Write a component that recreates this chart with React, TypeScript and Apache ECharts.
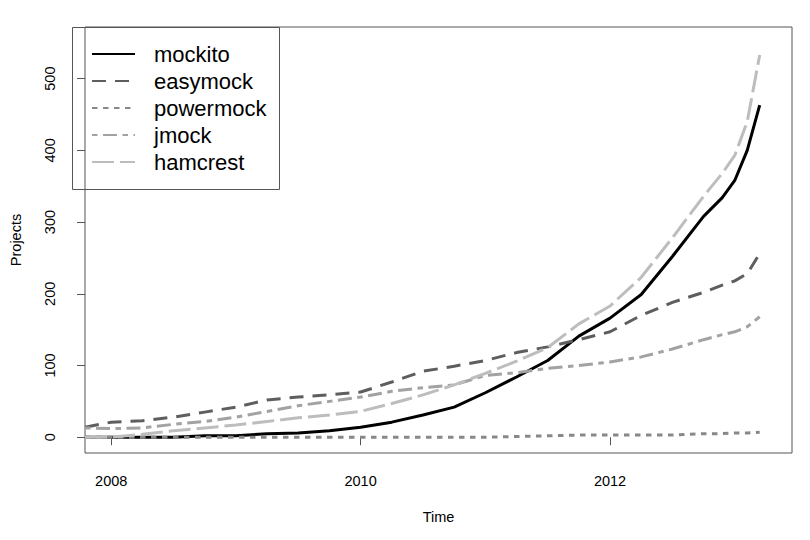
import React, { useEffect, useRef } from "react";
import * as echarts from "echarts";

const years = [
  2007.79, 2008.0, 2008.25, 2008.5, 2008.75, 2009.0, 2009.25, 2009.5, 2009.75,
  2010.0, 2010.25, 2010.5, 2010.75, 2011.0, 2011.25, 2011.5, 2011.75, 2012.0,
  2012.25, 2012.5, 2012.75, 2012.9, 2013.0, 2013.1, 2013.2,
];
const mockito = [0, 0, 0, 0, 2, 2, 5, 6, 9, 14, 21, 31, 42, 62, 84, 107, 141, 166, 199, 252, 308, 334, 358, 400, 463];
const easymock = [14, 21, 23, 28, 35, 42, 52, 56, 59, 63, 77, 92, 99, 107, 118, 126, 136, 147, 170, 188, 202, 212, 218, 228, 256];
const powermock = [0, 0, 0, 0, 0, 0, 0, 0, 0, 0, 0, 0, 0, 0, 1, 2, 3, 3, 3, 3, 5, 5, 6, 6, 7];
const jmock = [13, 12, 13, 18, 22, 28, 36, 44, 50, 56, 64, 69, 73, 86, 90, 96, 100, 105, 112, 123, 136, 143, 147, 154, 168];
const hamcrest = [0, 0, 4, 9, 13, 17, 22, 27, 31, 36, 47, 59, 73, 89, 106, 125, 158, 183, 223, 278, 336, 368, 393, 440, 533];

const seriesNames = ["mockito", "easymock", "powermock", "jmock", "hamcrest"];
const seriesValues = [mockito, easymock, powermock, jmock, hamcrest];
const xTicks = [2008, 2010, 2012];
const yTicks = [0, 100, 200, 300, 400, 500];

const colors = ["#000000", "#5e5e5e", "#888888", "#a2a2a2", "#bdbdbd"];
const dashes: any[] = ["solid", [14, 9], [5.5, 5.5], [5.5, 5.5, 14, 5.5], [22, 6]];

export default function App() {
  const ref = useRef<HTMLDivElement>(null);
  useEffect(() => {
    const chart = echarts.init(ref.current!, null, { renderer: "svg" });
    const font = "'Liberation Sans', Arial, Helvetica, sans-serif";
    chart.setOption({
      animation: false,
      backgroundColor: "#ffffff",
      textStyle: { fontFamily: font },
      grid: {
        left: 72,
        top: 27,
        right: 18,
        bottom: 87,
        show: true,
        borderColor: "#555555",
        borderWidth: 1,
        backgroundColor: "transparent",
      },
      legend: {
        orient: "vertical",
        left: 91,
        top: 43,
        padding: 0,
        itemWidth: 43,
        itemHeight: 14,
        itemGap: 5,
        data: seriesNames,
        itemStyle: { opacity: 0, borderWidth: 0 },
        textStyle: {
          fontFamily: font,
          fontSize: 22,
          lineHeight: 22,
          color: "#000",
          padding: [0, 0, 0, 14],
        },
      },
      graphic: [
        {
          type: "rect",
          shape: { x: 72.5, y: 27.5, width: 207, height: 162 },
          style: { fill: "#fff", stroke: "#555555", lineWidth: 1 },
          z: -1,
          zlevel: 0,
        },
      ],
      xAxis: {
        type: "value",
        min: 2007.79,
        max: 2013.459,
        name: "Time",
        nameLocation: "middle",
        nameGap: 56,
        nameTextStyle: { fontSize: 14.5, color: "#000", fontFamily: font },
        axisLine: { show: false },
        axisTick: {
          show: true,
          inside: false,
          length: 8,
          lineStyle: { color: "#555555" },
          customValues: xTicks,
        },
        axisLabel: {
          fontSize: 14.5,
          color: "#000",
          margin: 20,
          fontFamily: font,
          customValues: xTicks,
          formatter: (v: number) => String(v),
        },
        splitLine: { show: false },
      },
      yAxis: {
        type: "value",
        min: -22,
        max: 572,
        name: "Projects",
        nameLocation: "middle",
        nameGap: 62,
        nameTextStyle: { fontSize: 14.5, color: "#000", fontFamily: font },
        axisLine: { show: false },
        axisTick: {
          show: true,
          inside: false,
          length: 8,
          lineStyle: { color: "#555555" },
          customValues: yTicks,
        },
        axisLabel: {
          fontSize: 14.5,
          color: "#000",
          margin: 28,
          rotate: 90,
          fontFamily: font,
          customValues: yTicks,
          formatter: (v: number) => String(v),
        },
        splitLine: { show: false },
      },
      series: seriesNames.map((name, i) => ({
        name,
        type: "line",
        symbol: "none",
        clip: true,
        z: 2 + i,
        data: years.map((x, j) => [x, seriesValues[i][j]]),
        lineStyle: { color: colors[i], width: 3, type: dashes[i], cap: "butt" },
        itemStyle: { color: colors[i] },
      })),
    });
    return () => chart.dispose();
  }, []);
  return <div ref={ref} style={{ width: 810, height: 540, margin: -8 }} />;
}
